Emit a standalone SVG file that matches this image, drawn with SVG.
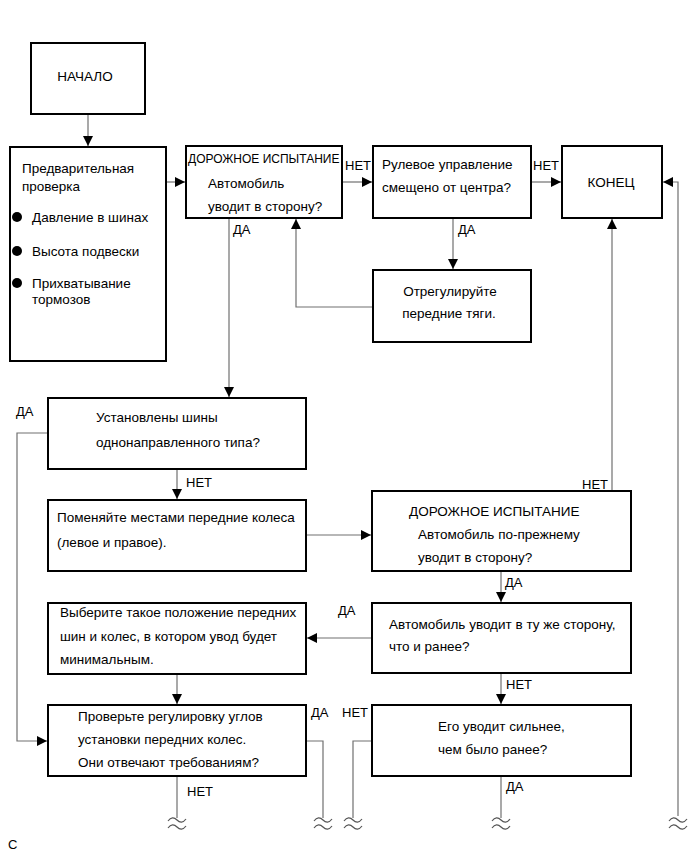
<svg xmlns="http://www.w3.org/2000/svg" width="692" height="856" viewBox="0 0 692 856">
<style>
.box{fill:#fff;stroke:#000;stroke-width:2}
.t{font-family:"Liberation Sans",Arial,sans-serif;font-size:13.5px;fill:#000}
.l{font-family:"Liberation Sans",Arial,sans-serif;font-size:13px;fill:#000}
.s{font-size:12px}
.c{text-anchor:middle}
.ln{fill:none;stroke:#707070;stroke-width:1.2}
.sq{fill:none;stroke:#555;stroke-width:1.2}
</style>
<defs>
<marker id="ah" markerUnits="userSpaceOnUse" markerWidth="10" markerHeight="10" viewBox="0 0 10 10" refX="10" refY="5" orient="auto">
<path d="M0,0 L10,5 L0,10 Z" fill="#000"/>
</marker>
<path id="wv" d="M-9,1 C-6,-3 -3,-3 0,0 S6,3 9,-1 M-9,8 C-6,4 -3,4 0,7 S6,10 9,6"/>
</defs>
<rect width="692" height="856" fill="#fff"/>

<g id="connectors">
<path class="ln" d="M88,114 V146" marker-end="url(#ah)"/>
<path class="ln" d="M166,182 H185" marker-end="url(#ah)"/>
<path class="ln" d="M342,182 H372" marker-end="url(#ah)"/>
<path class="ln" d="M531,182 H561" marker-end="url(#ah)"/>
<path class="ln" d="M453,218 V269" marker-end="url(#ah)"/>
<path class="ln" d="M373,307 H296 V219" marker-end="url(#ah)"/>
<path class="ln" d="M229,218 V397" marker-end="url(#ah)"/>
<path class="ln" d="M48,433 H17 V741 H47" marker-end="url(#ah)"/>
<path class="ln" d="M177,469 V499" marker-end="url(#ah)"/>
<path class="ln" d="M306,535 H371" marker-end="url(#ah)"/>
<path class="ln" d="M612,491 V219" marker-end="url(#ah)"/>
<path class="ln" d="M678,816 V182 H663" marker-end="url(#ah)"/>
<path class="ln" d="M501,571 V602" marker-end="url(#ah)"/>
<path class="ln" d="M372,638 H307" marker-end="url(#ah)"/>
<path class="ln" d="M177,674 V704" marker-end="url(#ah)"/>
<path class="ln" d="M501,673 V704" marker-end="url(#ah)"/>
<path class="ln" d="M306,741 H323 V818"/>
<path class="ln" d="M372,741 H353 V818"/>
<path class="ln" d="M177,776 V818"/>
<path class="ln" d="M501,776 V818"/>
<use href="#wv" class="sq" x="177" y="820"/>
<use href="#wv" class="sq" x="323" y="820"/>
<use href="#wv" class="sq" x="353" y="820"/>
<use href="#wv" class="sq" x="501" y="820"/>
<use href="#wv" class="sq" x="678" y="820"/>
<text class="l" x="345" y="170">НЕТ</text>
<text class="l" x="533" y="170">НЕТ</text>
<text class="l" x="458" y="234">ДА</text>
<text class="l" x="233" y="234">ДА</text>
<text class="l" x="16" y="416">ДА</text>
<text class="l" x="186" y="487">НЕТ</text>
<text class="l" x="582" y="489">НЕТ</text>
<text class="l" x="505" y="587">ДА</text>
<text class="l" x="338" y="615">ДА</text>
<text class="l" x="506" y="689">НЕТ</text>
<text class="l" x="311" y="717">ДА</text>
<text class="l" x="342" y="717">НЕТ</text>
<text class="l" x="187" y="796">НЕТ</text>
<text class="l" x="506" y="791">ДА</text>
</g>

<g id="start">
<rect class="box" x="31" y="43" width="114" height="71"/>
<text class="t c" x="85" y="81">НАЧАЛО</text>
</g>

<g id="precheck">
<rect class="box" x="10" y="147" width="156" height="214"/>
<text class="t" x="22" y="173">Предварительная</text>
<text class="t" x="22" y="191">проверка</text>
<circle cx="17" cy="217" r="5"/>
<text class="t" x="32" y="222">Давление в шинах</text>
<circle cx="17" cy="251" r="5"/>
<text class="t" x="32" y="256">Высота подвески</text>
<circle cx="17" cy="283" r="5"/>
<text class="t" x="32" y="288">Прихватывание</text>
<text class="t" x="32" y="304">тормозов</text>
</g>

<g id="roadtest1">
<rect class="box" x="186" y="146" width="156" height="72"/>
<text class="t s" x="188" y="163">ДОРОЖНОЕ ИСПЫТАНИЕ</text>
<text class="t" x="208" y="188">Автомобиль</text>
<text class="t" x="208" y="211">уводит в сторону?</text>
</g>

<g id="steering">
<rect class="box" x="373" y="146" width="158" height="72"/>
<text class="t" x="382" y="169">Рулевое управление</text>
<text class="t" x="382" y="192">смещено от центра?</text>
</g>

<g id="end">
<rect class="box" x="562" y="146" width="100" height="72"/>
<text class="t c" x="611" y="187">КОНЕЦ</text>
</g>

<g id="adjust">
<rect class="box" x="373" y="270" width="158" height="72"/>
<text class="t c" x="450" y="296">Отрегулируйте</text>
<text class="t c" x="449" y="318">передние тяги.</text>
</g>

<g id="unidirectional">
<rect class="box" x="48" y="398" width="258" height="71"/>
<text class="t" x="96" y="422">Установлены шины</text>
<text class="t" x="96" y="447">однонаправленного типа?</text>
</g>

<g id="swap">
<rect class="box" x="48" y="500" width="258" height="71"/>
<text class="t" x="57" y="522">Поменяйте местами передние колеса</text>
<text class="t" x="57" y="547">(левое и правое).</text>
</g>

<g id="roadtest2">
<rect class="box" x="372" y="491" width="259" height="80"/>
<text class="t" x="409" y="516">ДОРОЖНОЕ ИСПЫТАНИЕ</text>
<text class="t" x="418" y="539">Автомобиль по-прежнему</text>
<text class="t" x="418" y="562">уводит в сторону?</text>
</g>

<g id="sameside">
<rect class="box" x="372" y="603" width="259" height="70"/>
<text class="t" x="389" y="629">Автомобиль уводит в ту же сторону,</text>
<text class="t" x="389" y="651">что и ранее?</text>
</g>

<g id="choose">
<rect class="box" x="48" y="603" width="258" height="71"/>
<text class="t" x="60" y="617">Выберите такое положение передних</text>
<text class="t" x="60" y="641">шин и колес, в котором увод будет</text>
<text class="t" x="60" y="664">минимальным.</text>
</g>

<g id="alignment">
<rect class="box" x="48" y="705" width="258" height="71"/>
<text class="t" x="78" y="721">Проверьте регулировку углов</text>
<text class="t" x="78" y="744">установки передних колес.</text>
<text class="t" x="78" y="767">Они отвечают требованиям?</text>
</g>

<g id="stronger">
<rect class="box" x="372" y="705" width="259" height="71"/>
<text class="t" x="438" y="731">Его уводит сильнее,</text>
<text class="t" x="438" y="754">чем было ранее?</text>
</g>

<text class="l" x="8" y="849">C</text>
</svg>
